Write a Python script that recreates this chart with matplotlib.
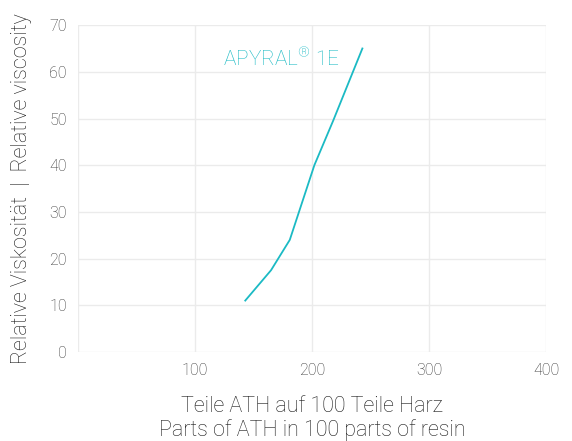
import matplotlib
matplotlib.use('Agg')
import matplotlib.pyplot as plt

plt.rcParams['font.family'] = ['Roboto', 'DejaVu Sans']
plt.rcParams['font.weight'] = 'light'
plt.rcParams['mathtext.fontset'] = 'custom'
plt.rcParams['mathtext.rm'] = 'Roboto:light'
plt.rcParams['mathtext.it'] = 'Roboto:light'

# Viscosity curve
parts_ath = [143, 165, 181, 202, 218, 243]
rel_visc = [11, 17.5, 24, 40, 49.5, 65]

x_ticks = [100, 200, 300, 400]
y_ticks = [0, 10, 20, 30, 40, 50, 60, 70]

teal = '#1BBAC4'
grey_text = '#333333'
grid_col = '#ebebeb'

fig = plt.figure(figsize=(5.72, 4.41), dpi=100)
ax = fig.add_axes([0.136, 0.202, 0.819, 0.741])

ax.plot(parts_ath, rel_visc, color=teal, linewidth=1.3)
ax.text(124, 62.8, r'APYRAL$^{\mathrm{®}}$ 1E', color=teal, fontsize=15,
        va='center', ha='left', fontweight='light')

ax.set_xlim(0, 400)
ax.set_ylim(0, 70)
ax.set_xticks(x_ticks)
ax.set_yticks(y_ticks)
ax.grid(True, color=grid_col, linewidth=1.0)
ax.axvline(0, color=grid_col, linewidth=1.0)
for s in ax.spines.values():
    s.set_visible(False)
ax.tick_params(length=0, labelsize=11.5, labelcolor=grey_text, pad=8)

ax.set_xlabel('Teile ATH auf 100 Teile Harz\nParts of ATH in 100 parts of resin',
              fontsize=15.5, color='#1a1a1a', labelpad=13, linespacing=1.1,
              fontweight='light')
ax.set_ylabel('Relative Viskosität  |  Relative viscosity', fontsize=15.5,
              color='#1a1a1a', labelpad=12, fontweight='light')

fig.savefig('out.png', dpi=100)
